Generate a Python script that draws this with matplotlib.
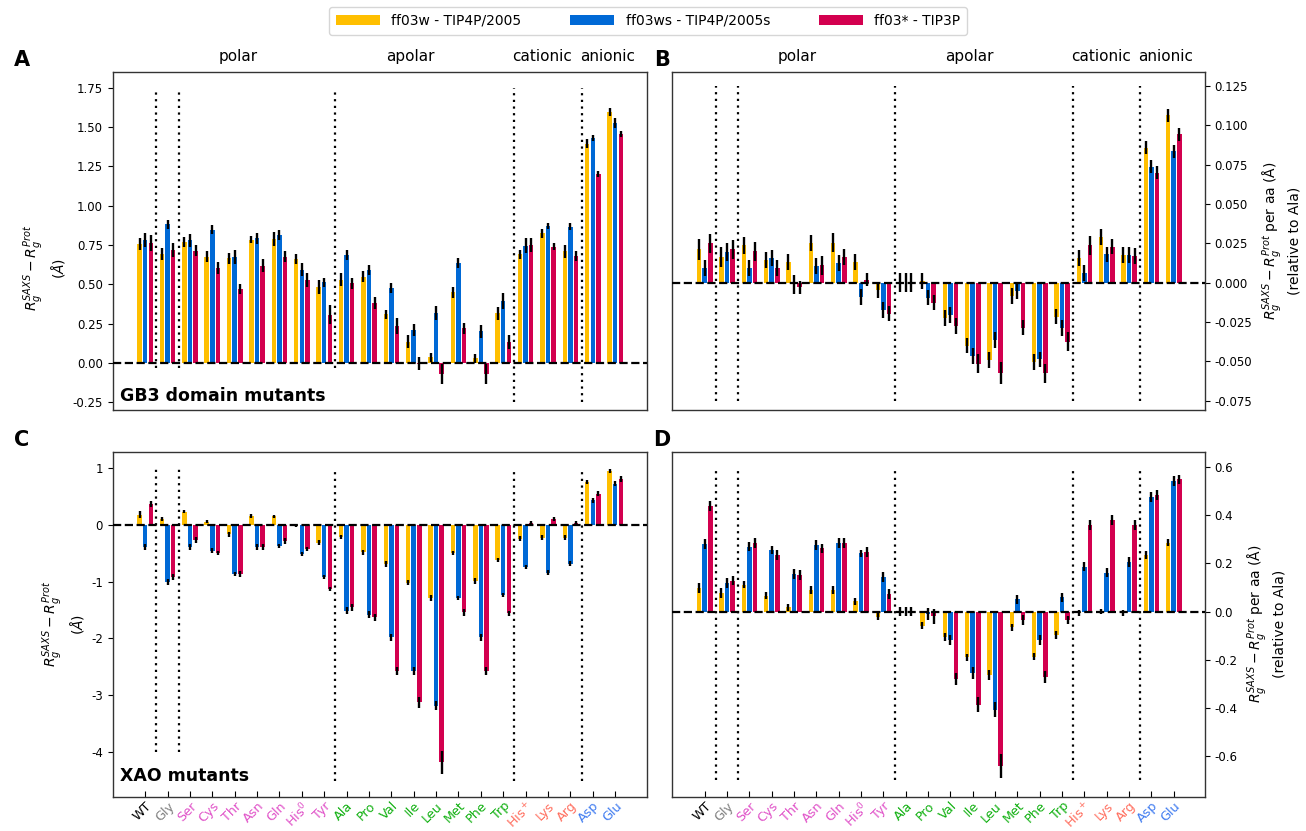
import numpy as np
import matplotlib
matplotlib.use("Agg")
import matplotlib.pyplot as plt
from matplotlib.patches import Patch
import matplotlib.transforms as mtransforms

categories = ['WT', 'Gly', 'Ser', 'Cys', 'Thr', 'Asn', 'Gln', 'His$^0$', 'Tyr',
              'Ala', 'Pro', 'Val', 'Ile', 'Leu', 'Met', 'Phe', 'Trp',
              'His$^+$', 'Lys', 'Arg', 'Asp', 'Glu']
label_colors = ['black', 'grey'] + ['#E052C8'] * 7 + ['#10B010'] * 8 + ['#FF6E5E'] * 3 + ['#3F7BF0'] * 2

series_names = ['ff03w - TIP4P/2005', 'ff03ws - TIP4P/2005s', 'ff03* - TIP3P']
series_colors = ['#FFBF00', '#0069D6', '#D3004F']

# Panel A: GB3 domain mutants
A_w = [0.757, 0.693, 0.77, 0.676, 0.665, 0.784, 0.789, 0.661, 0.48, 0.53, 0.548, 0.308, 0.134, 0.034, 0.449, 0.028, 0.315, 0.69, 0.823, 0.71, 1.395, 1.597]
A_ws = [0.78, 0.88, 0.78, 0.848, 0.672, 0.793, 0.814, 0.593, 0.512, 0.687, 0.59, 0.476, 0.21, 0.315, 0.634, 0.2, 0.395, 0.746, 0.872, 0.867, 1.43, 1.526]
A_s = [0.76, 0.72, 0.714, 0.604, 0.47, 0.619, 0.676, 0.529, 0.306, 0.506, 0.38, 0.236, -0.005, -0.072, 0.219, -0.072, 0.13, 0.75, 0.74, 0.68, 1.2, 1.454]
A_w_err = [0.04, 0.04, 0.03, 0.035, 0.035, 0.02, 0.045, 0.03, 0.045, 0.04, 0.035, 0.03, 0.04, 0.03, 0.035, 0.03, 0.04, 0.03, 0.03, 0.04, 0.03, 0.025]
A_ws_err = [0.045, 0.03, 0.04, 0.03, 0.045, 0.035, 0.03, 0.04, 0.03, 0.03, 0.03, 0.03, 0.04, 0.045, 0.03, 0.04, 0.05, 0.045, 0.02, 0.025, 0.02, 0.03]
A_s_err = [0.05, 0.045, 0.035, 0.04, 0.03, 0.04, 0.035, 0.045, 0.06, 0.035, 0.04, 0.05, 0.04, 0.065, 0.035, 0.065, 0.045, 0.045, 0.025, 0.03, 0.02, 0.02]

# Panel B: GB3 per aa (relative to Ala)
B_w = [0.0212, 0.0163, 0.0237, 0.0142, 0.0131, 0.0254, 0.0254, 0.013, -0.0047, 0.0, 0.001, -0.0223, -0.04, -0.0494, -0.0085, -0.0505, -0.0216, 0.0155, 0.029, 0.0178, 0.0859, 0.1064]
B_ws = [0.0091, 0.0195, 0.0091, 0.0159, -0.001, 0.0106, 0.0123, -0.009, -0.0174, 0.0, -0.0095, -0.0208, -0.0466, -0.0365, -0.0053, -0.0488, -0.029, 0.006, 0.018, 0.0178, 0.0738, 0.0835]
B_s = [0.025, 0.0212, 0.020, 0.0091, -0.003, 0.011, 0.0163, 0.002, -0.0197, 0.0, -0.0127, -0.0276, -0.0515, -0.0577, -0.0286, -0.0577, -0.0377, 0.0237, 0.023, 0.017, 0.07, 0.0944]
B_w_err = [0.0065, 0.0065, 0.0055, 0.005, 0.005, 0.005, 0.006, 0.005, 0.005, 0.006, 0.005, 0.005, 0.005, 0.005, 0.005, 0.005, 0.005, 0.005, 0.005, 0.005, 0.004, 0.004]
B_ws_err = [0.005, 0.006, 0.005, 0.005, 0.006, 0.005, 0.005, 0.005, 0.005, 0.006, 0.005, 0.005, 0.005, 0.005, 0.005, 0.005, 0.005, 0.005, 0.005, 0.005, 0.004, 0.004]
B_s_err = [0.006, 0.006, 0.006, 0.005, 0.004, 0.006, 0.005, 0.004, 0.005, 0.006, 0.005, 0.005, 0.006, 0.007, 0.005, 0.006, 0.006, 0.006, 0.005, 0.005, 0.004, 0.004]

# Panel C: XAO mutants
C_w = [0.17, 0.094, 0.228, 0.053, -0.17, 0.152, 0.146, -0.03, -0.316, -0.22, -0.49, -0.696, -1.018, -1.292, -0.503, -0.988, -0.626, -0.246, -0.228, -0.228, 0.749, 0.94]
C_ws = [-0.39, -1.006, -0.40, -0.46, -0.87, -0.39, -0.374, -0.52, -0.918, -1.515, -1.585, -1.98, -2.567, -3.18, -1.292, -1.98, -1.234, -0.743, -0.842, -0.684, 0.427, 0.72]
C_s = [0.357, -0.918, -0.275, -0.503, -0.87, -0.39, -0.287, -0.433, -1.134, -1.456, -1.63, -2.567, -3.12, -4.175, -1.544, -2.567, -1.56, 0.035, 0.094, 0.035, 0.544, 0.795]
C_w_err = [0.06, 0.04, 0.03, 0.03, 0.04, 0.03, 0.03, 0.02, 0.04, 0.04, 0.05, 0.05, 0.05, 0.05, 0.04, 0.05, 0.04, 0.04, 0.04, 0.04, 0.04, 0.03]
C_ws_err = [0.05, 0.05, 0.05, 0.04, 0.04, 0.05, 0.04, 0.03, 0.04, 0.06, 0.06, 0.06, 0.07, 0.08, 0.04, 0.06, 0.04, 0.04, 0.05, 0.05, 0.04, 0.04]
C_s_err = [0.05, 0.05, 0.05, 0.04, 0.05, 0.05, 0.05, 0.04, 0.04, 0.06, 0.06, 0.07, 0.1, 0.2, 0.06, 0.07, 0.05, 0.03, 0.04, 0.03, 0.05, 0.05]

# Panel D: XAO per aa (relative to Ala)
D_w = [0.097, 0.076, 0.111, 0.066, 0.017, 0.09, 0.09, 0.043, -0.021, 0.0, -0.059, -0.106, -0.19, -0.263, -0.065, -0.187, -0.097, -0.005, 0.0, -0.005, 0.235, 0.286]
D_ws = [0.281, 0.118, 0.27, 0.256, 0.156, 0.277, 0.284, 0.242, 0.145, 0.0, -0.01, -0.118, -0.256, -0.408, 0.051, -0.118, 0.059, 0.187, 0.162, 0.207, 0.477, 0.544]
D_s = [0.44, 0.129, 0.286, 0.235, 0.152, 0.263, 0.286, 0.249, 0.073, 0.0, -0.02, -0.28, -0.387, -0.643, -0.035, -0.272, -0.035, 0.36, 0.38, 0.36, 0.484, 0.55]
D_w_err = [0.02, 0.02, 0.015, 0.015, 0.015, 0.015, 0.015, 0.015, 0.015, 0.02, 0.015, 0.015, 0.015, 0.02, 0.015, 0.015, 0.015, 0.012, 0.012, 0.012, 0.015, 0.015]
D_ws_err = [0.02, 0.02, 0.02, 0.015, 0.02, 0.02, 0.02, 0.015, 0.02, 0.02, 0.025, 0.02, 0.025, 0.03, 0.02, 0.02, 0.02, 0.02, 0.02, 0.02, 0.02, 0.02]
D_s_err = [0.02, 0.02, 0.02, 0.02, 0.02, 0.02, 0.02, 0.02, 0.02, 0.02, 0.03, 0.025, 0.03, 0.05, 0.02, 0.025, 0.015, 0.02, 0.02, 0.02, 0.02, 0.02]

group_names = ['polar', 'apolar', 'cationic', 'anionic']
group_label_x = [4.15, 11.85, 17.75, 20.65]
separators = [0.5, 1.5, 8.5, 16.5, 19.5]

panels = {
    'A': dict(vals=(A_w, A_ws, A_s), errs=(A_w_err, A_ws_err, A_s_err), ylim=(-0.3, 1.85),
              yticks=[-0.25, 0, 0.25, 0.5, 0.75, 1.0, 1.25, 1.5, 1.75], fmt='{:.2f}',
              seps=[(-0.03, 1.75)] * 3 + [(-0.25, 1.75)] * 2),
    'B': dict(vals=(B_w, B_ws, B_s), errs=(B_w_err, B_ws_err, B_s_err), ylim=(-0.081, 0.134),
              yticks=[-0.075, -0.05, -0.025, 0, 0.025, 0.05, 0.075, 0.1, 0.125], fmt='{:.3f}',
              seps=[(-0.075, 0.125)] * 5),
    'C': dict(vals=(C_w, C_ws, C_s), errs=(C_w_err, C_ws_err, C_s_err), ylim=(-4.78, 1.28),
              yticks=[-4, -3, -2, -1, 0, 1], fmt='{:.0f}',
              seps=[(-4.0, 1.0)] * 2 + [(-4.5, 1.0)] * 3),
    'D': dict(vals=(D_w, D_ws, D_s), errs=(D_w_err, D_ws_err, D_s_err), ylim=(-0.77, 0.665),
              yticks=[-0.6, -0.4, -0.2, 0, 0.2, 0.4, 0.6], fmt='{:.1f}',
              seps=[(-0.7, 0.6)] * 5),
}

W, H = 1306, 831
fig = plt.figure(figsize=(W / 100, H / 100), dpi=100)

def rect(l, r, t, b):
    return [l / W, 1 - b / H, (r - l) / W, (b - t) / H]

axes = {
    'A': fig.add_axes(rect(112.7, 646.5, 72, 410)),
    'B': fig.add_axes(rect(672.3, 1205, 72, 410)),
    'C': fig.add_axes(rect(112.7, 646.5, 451.7, 796.7)),
    'D': fig.add_axes(rect(672.3, 1205, 451.7, 796.7)),
}

x = np.arange(len(categories))
offsets = [-0.25, 0.0, 0.25]
width = 0.2
ylab_main = r'$R_g^{SAXS} - R_g^{Prot}$' + '\n' + r'$(\AA)$'
ylab_rel = r'$R_g^{SAXS} - R_g^{Prot}$ per aa (Å)' + '\n' + '(relative to Ala)'

for key, ax in axes.items():
    p = panels[key]
    for vals, errs, off, col in zip(p['vals'], p['errs'], offsets, series_colors):
        ax.bar(x + off, vals, width=width, color=col, yerr=errs,
               error_kw=dict(ecolor='black', elinewidth=1.7, capsize=0), zorder=2)
    ax.axhline(0, color='black', ls='--', lw=1.6, zorder=3)
    for sx, (y0, y1) in zip(separators, p['seps']):
        ax.vlines(sx, y0, y1, colors='black', linestyles=(0, (1, 2)), lw=1.6, zorder=3)
    ax.set_xlim(-1.45, 22.4)
    ax.set_ylim(*p['ylim'])
    ax.set_yticks(p['yticks'])
    ax.set_yticklabels([p['fmt'].format(v) for v in p['yticks']])
    ax.tick_params(axis='y', labelsize=8.5, direction='out', length=3.5)
    ax.set_xticks(x)
    for s in ax.spines.values():
        s.set_linewidth(1.0)
        s.set_color('#333333')
    if key in ('A', 'B'):
        ax.tick_params(axis='x', bottom=False, labelbottom=False)
        trans = mtransforms.blended_transform_factory(ax.transData, ax.transAxes)
        for gx, gn in zip(group_label_x, group_names):
            ax.text(gx, 1.045, gn, transform=trans, ha='center', va='center', fontsize=11)
    else:
        ax.tick_params(axis='x', direction='in', length=4, pad=2)
        ax.set_xticklabels(categories, rotation=45, ha='right', rotation_mode='anchor', fontsize=9.2)
        for lbl, c in zip(ax.get_xticklabels(), label_colors):
            lbl.set_color(c)
    if key in ('B', 'D'):
        ax.yaxis.tick_right()
        ax.yaxis.set_label_position('right')
        ax.set_ylabel(ylab_rel, fontsize=10, labelpad=6)
    else:
        ax.set_ylabel(ylab_main, fontsize=10, labelpad=4)

axes['A'].yaxis.set_label_coords(-0.085, 0.42)

axes['A'].text(0.014, 0.04, 'GB3 domain mutants', transform=axes['A'].transAxes,
               fontsize=12.5, fontweight='bold', ha='left', va='center')
axes['C'].text(0.014, 0.06, 'XAO mutants', transform=axes['C'].transAxes,
               fontsize=12.5, fontweight='bold', ha='left', va='center')

for letter, (px, py) in {'A': (22, 60), 'B': (662, 60), 'C': (22, 440), 'D': (662, 440)}.items():
    fig.text(px / W, 1 - py / H, letter, fontsize=15, fontweight='bold', ha='center', va='center')

handles = [Patch(facecolor=c, label=n) for c, n in zip(series_colors, series_names)]
fig.legend(handles=handles, loc='center', bbox_to_anchor=(648 / W, 1 - 21 / H), ncol=3,
           fontsize=10, handlelength=3.2, handleheight=0.8, columnspacing=3.5,
           frameon=True, edgecolor='#cccccc', borderpad=0.5)

fig.savefig('out.png', dpi=100)
